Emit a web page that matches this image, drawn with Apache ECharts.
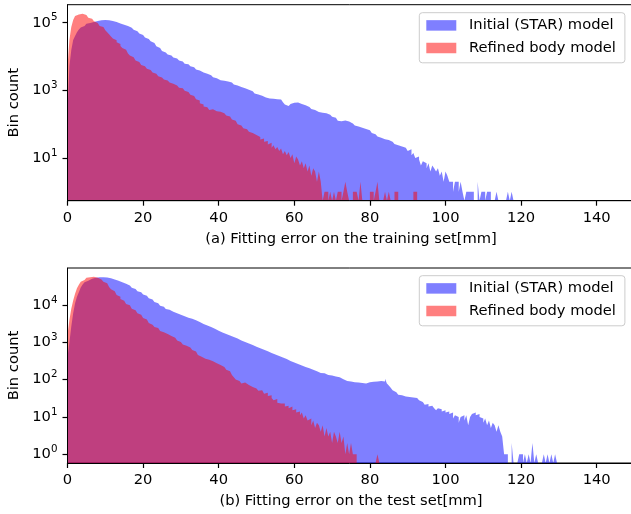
<!DOCTYPE html>
<html>
<head>
<meta charset="utf-8">
<script src="https://cdn.jsdelivr.net/npm/echarts@6/dist/echarts.min.js"></script>
<style>
  html, body { margin: 0; padding: 0; background: #ffffff; }
  #chart { width: 631px; height: 514px; }
</style>
</head>
<body>
<div id="chart"></div>
<script>
// Histogram bin width in millimetres; bin i covers [i * BIN_MM, (i + 1) * BIN_MM).
const BIN_MM = 0.5;

const SERIES_NAMES = ['Initial (STAR) model', 'Refined body model'];

// (a) training set — per-bin counts
const TRAIN_INITIAL = [
  250, 5250, 15500, 31000, 40700, 52500, 63000, 72400, 79400, 85100,
  93300, 97700, 100000, 104700, 109600, 112200, 116000, 117500, 120200, 120200,
  118900, 117500, 114800, 112200, 108400, 104700, 100000, 95500, 91200, 87100,
  83200, 79400, 74100, 70800, 66100, 61700, 56200, 52500, 47900, 43700,
  39800, 36300, 33100, 30200, 28200, 25100, 22400, 20000, 17800, 15800,
  14500, 13200, 12300, 11500, 10700, 10000, 9330, 8710, 8130, 7590,
  7080, 6610, 6170, 5890, 5500, 5130, 4790, 4470, 4170, 3890,
  3550, 3390, 3240, 3090, 2950, 2820, 2630, 2450, 2290, 2140,
  2000, 1950, 1910, 1860, 1820, 1780, 1700, 1580, 1480, 1380,
  1320, 1260, 1200, 1150, 1100, 1050, 1000, 933, 871, 813,
  759, 724, 692, 661, 617, 575, 575, 562, 562, 550,
  550, 537, 537, 501, 447, 380, 347, 363, 398, 427,
  437, 437, 417, 398, 380, 363, 347, 324, 302, 282,
  263, 240, 229, 224, 219, 214, 209, 204, 191, 178,
  166, 155, 145, 126, 123, 126, 129, 126, 120, 112,
  105, 98, 91, 85, 79, 78, 74, 72, 69, 66,
  60, 55, 50, 46, 43, 40, 38, 36, 35, 34,
  32, 30, 28, 26, 24, 23, 22, 21, 20, 19,
  16, 18, 12, 14, 10, 11, 9, 6, 8, 7,
  5, 7, 4, 6, 5, 4, 5, 3, 4, 2,
  4, 3, 2, 2, 1, 2, 2, 1, 2, 1,
  0, 1, 1, 1, 1, 0, 0, 2, 0, 1,
  1, 0, 1, 1, 0, 0, 0, 1, 0, 0,
  0, 0, 0, 1, 0, 1
];
const TRAIN_REFINED = [
  5000, 31000, 74100, 120000, 158000, 174000, 182000, 184000, 178000, 170000,
  158000, 141000, 132000, 120000, 110000, 97700, 89100, 79400, 74100, 67600,
  60300, 52500, 45700, 38900, 33900, 30200, 26300, 23400, 20400, 17800,
  15800, 13800, 12300, 10700, 9550, 8510, 7590, 6920, 6170, 5620,
  5130, 4790, 4370, 3980, 3630, 3390, 3090, 2880, 2630, 2400,
  2240, 2090, 1950, 1820, 1700, 1580, 1480, 1380, 1290, 1200,
  1150, 1070, 977, 891, 813, 741, 676, 617, 550, 501,
  417, 380, 331, 316, 288, 263, 275, 251, 240, 245,
  234, 219, 209, 200, 182, 170, 158, 138, 126, 110,
  100, 91, 83, 76, 71, 63, 60, 55, 50, 48,
  44, 42, 35, 38, 30, 32, 25, 28, 20, 24,
  18, 21, 16, 19, 13, 16, 12, 15, 10, 13,
  7, 11, 9, 6, 8, 5, 7, 4, 6, 3,
  5, 4, 2, 4, 2, 0, 1, 1, 0, 1,
  0, 1, 0, 1, 1, 0, 1, 2, 1, 0,
  0, 1, 1, 1, 0, 2, 0, 0, 0, 0,
  1, 1, 0, 1, 2, 0, 0, 0, 1, 0,
  1, 0, 0, 1, 1, 0, 0, 0, 0, 0,
  0, 0, 0, 1, 1
];

// (b) test set — per-bin counts
const TEST_INITIAL = [
  400, 1000, 2630, 6030, 11200, 16600, 21900, 29500, 35500, 40700,
  44700, 47900, 50100, 52500, 53700, 55000, 55600, 55600, 55600, 55000,
  54300, 53700, 51900, 50100, 48400, 46800, 44700, 42700, 40700, 38900,
  37200, 35500, 33100, 30900, 28800, 26900, 25100, 23400, 21900, 20400,
  19100, 17800, 16200, 15100, 14100, 13200, 12000, 11200, 10500, 9550,
  8910, 8320, 7760, 7410, 6920, 6610, 6310, 6030, 5750, 5500,
  5250, 5010, 4790, 4570, 4470, 4270, 4070, 3890, 3720, 3470,
  3240, 3090, 2950, 2820, 2690, 2570, 2400, 2290, 2190, 2040,
  1910, 1820, 1740, 1660, 1580, 1510, 1450, 1380, 1320, 1260,
  1170, 1120, 1070, 1020, 977, 933, 891, 851, 794, 759,
  724, 692, 661, 631, 603, 575, 550, 513, 490, 468,
  447, 427, 407, 389, 372, 355, 331, 316, 302, 288,
  275, 263, 251, 240, 229, 219, 209, 200, 191, 182,
  174, 166, 158, 151, 141, 148, 135, 132, 141, 129,
  126, 120, 117, 115, 107, 102, 95, 91, 87, 89,
  83, 85, 79, 83, 78, 81, 83, 79, 83, 85,
  83, 87, 85, 89, 87, 91, 93, 89, 105, 79,
  69, 60, 52, 46, 42, 39, 38, 37, 35, 36,
  34, 35, 33, 32, 32, 30, 28, 25, 23, 21,
  22, 19, 20, 18, 17, 15, 17, 16, 14, 15,
  13, 14, 12, 13, 9, 11, 10, 7, 10, 11,
  8, 11, 6, 10, 12, 13, 11, 12, 10, 9,
  7, 9, 6, 8, 5, 7, 6, 4, 6, 4,
  3, 1, 1, 0, 0, 2, 0, 0, 0, 1,
  1, 0, 1, 0, 1, 0, 2, 0, 1, 0,
  0, 0, 1, 0, 1, 0, 1, 0, 1, 0
];
const TEST_REFINED = [
  1580, 3980, 7940, 13200, 20000, 28200, 34700, 41700, 46800, 50100,
  53700, 55600, 56900, 57500, 55600, 53700, 51300, 48400, 45700, 41700,
  38000, 33900, 30200, 26300, 23400, 20900, 18600, 16600, 14500, 12900,
  11700, 10700, 9770, 8710, 7940, 7240, 6610, 6030, 5500, 4900,
  4470, 4070, 3630, 3310, 2950, 2750, 2570, 2400, 2190, 2000,
  1860, 1780, 1660, 1580, 1480, 1410, 1320, 1200, 1120, 1020,
  933, 871, 813, 759, 724, 676, 617, 562, 501, 457,
  407, 380, 363, 347, 339, 331, 309, 295, 275, 257,
  245, 234, 219, 200, 182, 166, 151, 132, 115, 100,
  91, 85, 79, 83, 74, 71, 69, 63, 60, 58,
  55, 50, 52, 46, 42, 44, 36, 38, 32, 28,
  30, 24, 23, 21, 23, 19, 20, 17, 19, 15,
  16, 13, 14, 11, 13, 9, 11, 8, 9, 6,
  8, 5, 7, 6, 4, 6, 3, 5, 3, 4,
  2, 4, 3, 2, 4, 2, 3, 1, 2, 1,
  2, 1, 1, 0, 0, 0, 0, 0, 0, 0,
  0, 0, 0, 0, 1
];

// Axis ranges and tick values
const X_RANGE = [0, 150];
const X_TICK_STEP = 20;
const TRAIN_Y_RANGE = [0.546, 341000];
const TEST_Y_RANGE = [0.58, 98000];
const TRAIN_MAJOR_TICKS = [10, 1000, 100000];
const TEST_MAJOR_TICKS = [1, 10, 100, 1000, 10000];
const TEST_MINOR_TICKS = [
  0.6, 0.7, 0.8, 0.9,
  2, 3, 4, 5, 6, 7, 8, 9,
  20, 30, 40, 50, 60, 70, 80, 90,
  200, 300, 400, 500, 600, 700, 800, 900,
  2000, 3000, 4000, 5000, 6000, 7000, 8000, 9000,
  20000, 30000, 40000, 50000, 60000, 70000, 80000, 90000
];

const X_TITLES = ['(a) Fitting error on the training set[mm]', '(b) Fitting error on the test set[mm]'];

const BLUE = 'rgba(0, 0, 255, 0.5)';
const RED = 'rgba(255, 0, 0, 0.5)';
const FONT = 'DejaVu Sans';
const FS = 14.7;

// Each bin becomes a flat step from its left edge to its right edge; empty
// bins sit on the floor of the log axis so the filled outline stays closed.
function stepPoints(counts, floor) {
  const pts = [];
  counts.forEach(function (c, i) {
    const v = c > 0 ? c : floor;
    pts.push([i * BIN_MM, v], [(i + 1) * BIN_MM, v]);
  });
  return pts;
}

function histSeries(name, counts, color, gridIdx, floor) {
  return {
    type: 'line',
    name: name,
    xAxisIndex: gridIdx,
    yAxisIndex: gridIdx === 0 ? 0 : 1,
    z: 1,
    silent: true,
    animation: false,
    showSymbol: false,
    symbol: 'none',
    smooth: false,
    sampling: null,
    data: stepPoints(counts, floor),
    itemStyle: { color: color },
    lineStyle: { width: 0, opacity: 0 },
    areaStyle: { color: color, opacity: 1, origin: floor }
  };
}

function powerLabel(value) {
  const exp = Math.round(Math.log10(value));
  return '{b|10}{s|' + exp + '}';
}

const powerRich = {
  b: { fontFamily: FONT, fontSize: FS, color: '#000', lineHeight: 20 },
  s: { fontFamily: FONT, fontSize: 10.3, color: '#000', verticalAlign: 'top' }
};

function xAxisFor(gridIdx) {
  return {
    type: 'value',
    gridIndex: gridIdx,
    min: X_RANGE[0],
    max: X_RANGE[1],
    interval: X_TICK_STEP,
    name: X_TITLES[gridIdx],
    nameLocation: 'middle',
    nameGap: 31,
    nameTextStyle: { fontFamily: FONT, fontSize: FS, color: '#000' },
    z: 5,
    axisLine: { show: true, onZero: false, lineStyle: { color: '#000', width: 1 } },
    axisTick: { show: true, length: 5, lineStyle: { color: '#000', width: 1.2 } },
    axisLabel: { margin: 10, fontFamily: FONT, fontSize: FS, color: '#000', showMaxLabel: false },
    splitLine: { show: false }
  };
}

function yAxisFor(gridIdx, range, majorTicks) {
  return {
    type: 'log',
    gridIndex: gridIdx,
    min: range[0],
    max: range[1],
    name: 'Bin count',
    nameLocation: 'middle',
    nameGap: 39,
    nameTextStyle: { fontFamily: FONT, fontSize: FS, color: '#000' },
    z: 5,
    axisLine: { show: true, lineStyle: { color: '#000', width: 1 } },
    axisTick: { show: true, length: 5, lineStyle: { color: '#000', width: 1.2 }, customValues: majorTicks },
    axisLabel: { margin: 10, customValues: majorTicks, formatter: powerLabel, rich: powerRich },
    splitLine: { show: false },
    minorTick: { show: false }
  };
}

function legendFor(top) {
  return {
    orient: 'vertical',
    left: 419.3,
    top: top,
    selectedMode: false,
    padding: [5.2, 9, 7.3, 7],
    itemWidth: 30,
    itemHeight: 10.5,
    itemGap: 7.6,
    backgroundColor: 'rgba(255,255,255,0.8)',
    borderColor: '#cccccc',
    borderWidth: 1,
    borderRadius: 3,
    textStyle: { fontFamily: FONT, fontSize: FS, color: '#000', padding: [0, 0, 0, 7.7] },
    data: [
      { name: SERIES_NAMES[0], icon: 'rect', itemStyle: { color: BLUE } },
      { name: SERIES_NAMES[1], icon: 'rect', itemStyle: { color: RED } }
    ]
  };
}

const chart = echarts.init(document.getElementById('chart'), null, { renderer: 'canvas' });

const option = {
  animation: false,
  backgroundColor: '#ffffff',
  textStyle: { fontFamily: FONT },
  grid: [
    { left: 67.5, top: 4.7, width: 567, height: 196, show: true, borderColor: '#000', borderWidth: 1, backgroundColor: 'transparent', outerBoundsMode: 'none', containLabel: false },
    { left: 67.5, top: 268, width: 567, height: 195, show: true, borderColor: '#000', borderWidth: 1, backgroundColor: 'transparent', outerBoundsMode: 'none', containLabel: false }
  ],
  xAxis: [xAxisFor(0), xAxisFor(1)],
  yAxis: [
    yAxisFor(0, TRAIN_Y_RANGE, TRAIN_MAJOR_TICKS),
    yAxisFor(1, TEST_Y_RANGE, TEST_MAJOR_TICKS),
    {
      // minor ticks of the lower panel
      type: 'log',
      gridIndex: 1,
      min: TEST_Y_RANGE[0],
      max: TEST_Y_RANGE[1],
      z: 5,
      axisLine: { show: false },
      axisTick: { show: true, length: 2.9, lineStyle: { color: '#000', width: 0.9 }, customValues: TEST_MINOR_TICKS },
      axisLabel: { show: false },
      splitLine: { show: false },
      minorTick: { show: false }
    }
  ],
  legend: [legendFor(12.7), legendFor(275.7)],
  series: [
    histSeries(SERIES_NAMES[0], TRAIN_INITIAL, BLUE, 0, TRAIN_Y_RANGE[0]),
    histSeries(SERIES_NAMES[1], TRAIN_REFINED, RED, 0, TRAIN_Y_RANGE[0]),
    histSeries(SERIES_NAMES[0], TEST_INITIAL, BLUE, 1, TEST_Y_RANGE[0]),
    histSeries(SERIES_NAMES[1], TEST_REFINED, RED, 1, TEST_Y_RANGE[0])
  ]
};

chart.setOption(option);
</script>
</body>
</html>
